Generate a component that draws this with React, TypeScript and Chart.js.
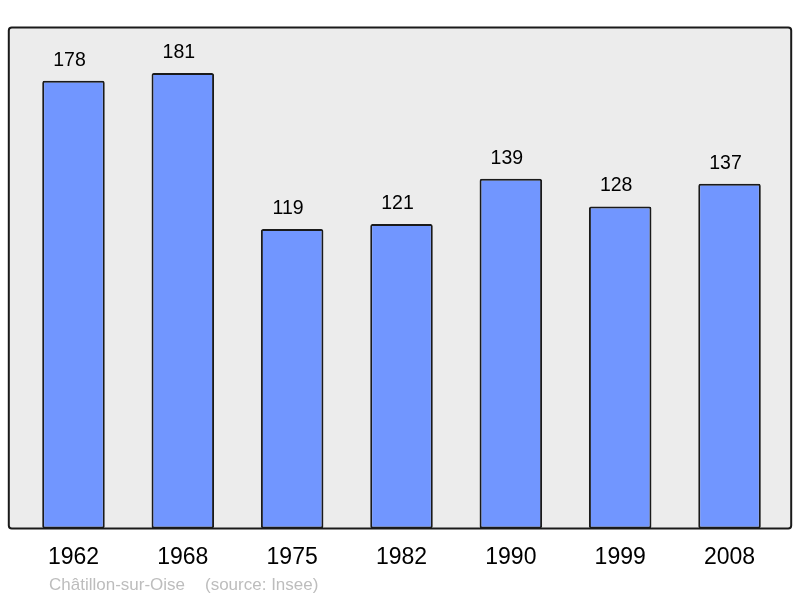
import React, { useEffect, useRef } from "react";
import { Chart, registerables } from "chart.js";

Chart.register(...registerables);

const years = ["1962", "1968", "1975", "1982", "1990", "1999", "2008"];
const population = [178, 181, 119, 121, 139, 128, 137];
const yMax = 200;
const placeName = "Châtillon-sur-Oise";
const sourceText = "(source: Insee)";

const FONT = "'Liberation Sans', Arial, sans-serif";

const framePlugin = {
  id: "frame",
  beforeDatasetsDraw(chart: any) {
    const { ctx, chartArea } = chart;
    const l = chartArea.left - 10, r = chartArea.right + 7, t = 27.5, b = chartArea.bottom;
    ctx.save();
    ctx.beginPath();
    ctx.roundRect(l, t, r - l, b - t, 3);
    ctx.fillStyle = "#ececec";
    ctx.fill();
    ctx.restore();
  },
  afterDatasetsDraw(chart: any) {
    const { ctx, chartArea } = chart;
    const l = chartArea.left - 10, r = chartArea.right + 7, t = 27.5, b = chartArea.bottom;
    ctx.save();
    ctx.beginPath();
    ctx.roundRect(l, t, r - l, b - t, 3);
    ctx.lineWidth = 2;
    ctx.strokeStyle = "#1a1a1a";
    ctx.stroke();
    // value labels
    const meta = chart.getDatasetMeta(0);
    ctx.fillStyle = "#000";
    ctx.font = `19.5px ${FONT}`;
    ctx.textAlign = "center";
    ctx.textBaseline = "alphabetic";
    meta.data.forEach((bar: any, i: number) => {
      ctx.fillText(String(population[i]), bar.x - 4, bar.y - 15);
    });
    // footer
    ctx.font = `17px ${FONT}`;
    ctx.fillStyle = "#bdbdbd";
    ctx.textAlign = "left";
    ctx.fillText(placeName, 49, 590);
    ctx.fillText(sourceText, 205, 590);
    ctx.restore();
  },
};

export default function App() {
  const ref = useRef<HTMLCanvasElement | null>(null);
  useEffect(() => {
    if (!ref.current) return;
    const chart = new Chart(ref.current, {
      type: "bar",
      data: {
        labels: years,
        datasets: [
          {
            data: population,
            backgroundColor: "#7196ff",
            borderColor: "#1a1a1a",
            borderWidth: 2,
            borderRadius: 2,
            borderSkipped: false,
            barPercentage: 0.572,
            categoryPercentage: 1,
          },
        ],
      },
      options: {
        animation: false,
        responsive: false,
        maintainAspectRatio: false,
        layout: { padding: { left: 18.8, right: 15.8, top: 25.3, bottom: 0 } },
        plugins: { legend: { display: false }, tooltip: { enabled: false } },
        scales: {
          x: {
            grid: { display: false, drawTicks: false },
            border: { display: false },
            ticks: { color: "#000", font: { family: FONT, size: 23 }, padding: 15 },
            afterFit: (s: any) => {
              s.height = 69.5;
            },
          },
          y: { display: false, min: 0, max: yMax },
        },
      },
      plugins: [framePlugin],
    });
    return () => chart.destroy();
  }, []);
  return (
    <div style={{ position: "absolute", left: 0, top: 0, width: 800, height: 598 }}>
      <canvas ref={ref} width={800} height={598} />
    </div>
  );
}
